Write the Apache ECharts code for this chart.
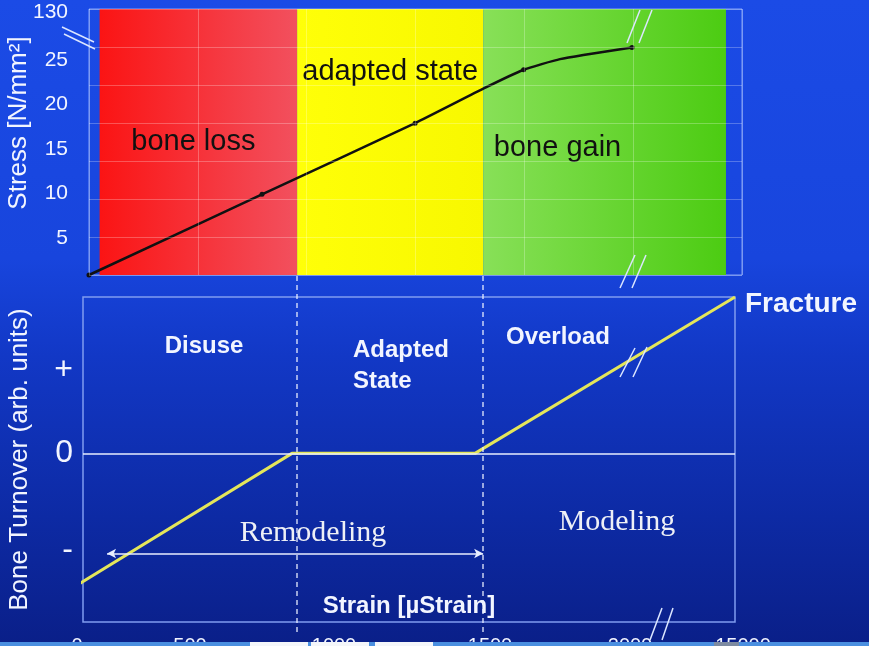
<!DOCTYPE html>
<html>
<head>
<meta charset="utf-8">
<script src="https://cdn.jsdelivr.net/npm/echarts@6/dist/echarts.min.js"></script>
<style>
  html, body { margin: 0; padding: 0; }
  #chart {
    width: 869px; height: 646px;
    background: linear-gradient(to bottom, #1b4be6 0%, #1845dd 40%, #1238c6 55%, #0d2aa4 80%, #0a1f88 100%);
  }
</style>
</head>
<body>
<div id="chart"></div>
<script>
// ---------------- data ----------------
const strainTicks = [0, 500, 1000, 1500, 2000, 15000];
const strainTickLabels = ['0', '500', '1000', '1500', '2000', '15000'];
const stressTicks = [5, 10, 15, 20, 25, 30.4];
const stressTickLabels = ['5', '10', '15', '20', '25', '130'];
const turnoverTicks = [-1.1, 0, 0.95];
const turnoverTickLabels = ['-', '0', '+'];

// stress–strain curve (top panel)
const stressStrain = [53, 750, 1260, 1480, 1620, 1750, 2230];
const stressValues = [0.84, 9.9, 17.9, 21.8, 23.9, 25.1, 26.4];
const stressMarked = [true, true, true, false, true, false, true];

// bone turnover vs strain (bottom panel)
const turnoverStrain = [0, 854, 1452, 14080];
const turnoverValues = [-1.5, 0, 0, 1.78];

// zones of the top panel
const zoneNames = ['bone loss', 'adapted state', 'bone gain'];
const zoneStart = [100, 872, 1478];
const zoneEnd = [872, 1478, 13040];

// regime boundaries and processes
const regimeBounds = [872, 1478];
const regimeNames = ['Disuse', 'Adapted\nState', 'Overload'];
const processNames = ['Remodeling', 'Modeling'];
const processStart = [133, 1478];
const processEnd = [1478, 14080];
const processLevel = -1.14;

// ---------------- layout ----------------
// the strain axis is hand drawn and broken: page x of each tick label
const tickX = [77, 190, 334, 490, 630, 743];
function sx(s) {
  let i = 0;
  while (i < strainTicks.length - 2 && s > strainTicks[i + 1]) i++;
  const s0 = strainTicks[i], s1 = strainTicks[i + 1];
  return tickX[i] + (s - s0) / (s1 - s0) * (tickX[i + 1] - tickX[i]);
}
function labelFor(values, labels) {
  return v => {
    const i = values.findIndex(t => Math.abs(t - v) < 1e-6);
    return i < 0 ? '' : labels[i];
  };
}
const W = 869, H = 646;
const TOP = { l: 89, r: 742, t: 9, b: 275 };
const LOW = { l: 83, r: 735, t: 297, b: 622 };
const SANS = '"Liberation Sans", Arial, sans-serif';
const SERIF = '"Liberation Serif", "Times New Roman", serif';

const zoneColors = [
  { type: 'linear', x: 0, y: 0, x2: 1, y2: 0, colorStops: [{ offset: 0, color: '#fb1414' }, { offset: 1, color: '#f2505e' }] },
  { type: 'linear', x: 0, y: 0, x2: 1, y2: 0, colorStops: [{ offset: 0, color: '#ffff08' }, { offset: 1, color: '#f8f800' }] },
  { type: 'linear', x: 0, y: 0, x2: 1, y2: 0, colorStops: [{ offset: 0, color: '#88e058' }, { offset: 1, color: '#4ccc12' }] }
];
const zoneLabelOffset = [[-5, 0], [0, -70], [-47, 6]];

const chart = echarts.init(document.getElementById('chart'), null, { width: W, height: H });

const hidden = { axisLine: { show: false }, axisTick: { show: false }, axisLabel: { show: false }, splitLine: { show: false } };
const gridLine = { show: true, lineStyle: { color: 'rgba(255,255,255,0.26)', width: 1 } };

const breakMarks = [
  [[62, 27, 94, 42], [64, 34, 95, 49]],
  [[640, 10, 627, 43], [652, 10, 639, 43]],
  [[635, 255, 620, 288], [646, 255, 632, 288]],
  [[635, 348, 620, 377], [647, 347, 633, 377]],
  [[662, 608, 650, 640], [673, 608, 662, 640]]
];
const graphic = [];
breakMarks.forEach(pair => pair.forEach(p => graphic.push({
  type: 'line', z: 50, shape: { x1: p[0], y1: p[1], x2: p[2], y2: p[3] },
  style: { stroke: '#dce6ff', lineWidth: 1.5 }
})));
// title of the stress axis
graphic.push({
  type: 'text', z: 50, x: 19, y: 123, rotation: Math.PI / 2,
  style: { text: 'Stress [N/mm²]', x: 0, y: 0, align: 'center', verticalAlign: 'middle', font: '26px ' + SANS, fill: '#f2f5ff' }
});
const regimeLabelPos = [[204, 347, 'center'], [353, 351, 'left'], [558, 338, 'center']];
regimeNames.forEach((n, i) => graphic.push({
  type: 'text', z: 50,
  style: {
    text: n, x: regimeLabelPos[i][0], y: regimeLabelPos[i][1] - 16, align: regimeLabelPos[i][2], verticalAlign: 'top',
    font: 'bold 24px ' + SANS, lineHeight: 31, fill: '#f2f5ff'
  }
}));
const processLabelPos = [[313, 533], [617, 522]];
processNames.forEach((n, i) => graphic.push({
  type: 'text', z: 50,
  style: { text: n, x: processLabelPos[i][0], y: processLabelPos[i][1], align: 'center', verticalAlign: 'middle', font: '30px ' + SERIF, fill: '#eef0f6' }
}));
// light strip at the picture's bottom edge
graphic.push({ type: 'rect', z: 100, shape: { x: 0, y: 642, width: W, height: 4 }, style: { fill: '#4a8fe0' } });
[[250, 58], [311, 58], [375, 58]].forEach(r => graphic.push({ type: 'rect', z: 101, shape: { x: r[0], y: 642, width: r[1], height: 4 }, style: { fill: '#f4f6fa' } }));
graphic.push({ type: 'rect', z: 101, shape: { x: 714, y: 642, width: 25, height: 4 }, style: { fill: '#7d8aa0' } });

const option = {
  animation: false,
  backgroundColor: 'transparent',
  grid: [
    { left: TOP.l, right: W - TOP.r, top: TOP.t, bottom: H - TOP.b, show: true, borderColor: 'rgba(150,180,255,0.85)', borderWidth: 1, outerBoundsMode: 'none', containLabel: false },
    { left: LOW.l, right: W - LOW.r, top: LOW.t, bottom: H - LOW.b, show: true, borderColor: '#809cf0', borderWidth: 1.5, outerBoundsMode: 'none', containLabel: false },
    { left: LOW.l, right: W - LOW.r, top: TOP.b + 1, bottom: H - 632, show: false, outerBoundsMode: 'none', containLabel: false },
    { left: 40, right: W - 800, top: 600, bottom: H - LOW.b, show: false, outerBoundsMode: 'none', containLabel: false }
  ],
  xAxis: [
    { type: 'value', gridIndex: 0, min: TOP.l, max: TOP.r, show: false },
    Object.assign({}, hidden, { type: 'value', gridIndex: 0, min: 0, max: 6, interval: 1, splitLine: gridLine, z: 5 }),
    Object.assign({}, hidden, {
      type: 'value', gridIndex: 1, min: LOW.l, max: LOW.r,
      name: 'Strain [µStrain]', nameLocation: 'middle', nameGap: -28,
      nameTextStyle: { color: '#f2f5ff', fontSize: 24, fontWeight: 'bold', fontFamily: SANS }
    }),
    { type: 'value', gridIndex: 2, min: LOW.l, max: LOW.r, show: false },
    Object.assign({}, hidden, {
      type: 'value', gridIndex: 3, min: 40, max: 800,
      axisLabel: {
        show: true, customValues: strainTicks.map(sx), formatter: labelFor(strainTicks.map(sx), strainTickLabels),
        color: '#f2f5ff', fontSize: 20, fontFamily: SANS, margin: 14
      }
    })
  ],
  yAxis: [
    Object.assign({}, hidden, {
      type: 'value', gridIndex: 0, min: 0.84, max: 30.73,
      axisLabel: {
        show: true, customValues: stressTicks, formatter: labelFor(stressTicks, stressTickLabels),
        color: '#f2f5ff', fontSize: 21, fontFamily: SANS, margin: 21
      }
    }),
    Object.assign({}, hidden, { type: 'value', gridIndex: 0, min: 0, max: 7, interval: 1, splitLine: gridLine, z: 5 }),
    Object.assign({}, hidden, {
      type: 'value', gridIndex: 1, min: -1.92, max: 1.78,
      name: 'Bone Turnover (arb. units)', nameLocation: 'middle', nameGap: 50,
      nameTextStyle: { color: '#f2f5ff', fontSize: 26, fontFamily: SANS },
      axisLabel: {
        show: true, customValues: turnoverTicks, formatter: labelFor(turnoverTicks, turnoverTickLabels),
        color: '#f2f5ff', fontSize: 32, fontFamily: SANS, margin: 10
      }
    }),
    { type: 'value', gridIndex: 2, min: 0, max: 1, show: false },
    { type: 'value', gridIndex: 3, min: 0, max: 1, show: false }
  ],
  series: [
    {
      name: 'Stress', type: 'line', xAxisIndex: 0, yAxisIndex: 0, z: 3,
      data: stressStrain.map((s, i) => ({ value: [sx(s), stressValues[i]], symbolSize: stressMarked[i] ? 5 : 0 })),
      symbol: 'circle', smooth: 0.15,
      itemStyle: { color: '#111' }, lineStyle: { color: '#111', width: 2.5 },
      markArea: {
        silent: true,
        data: zoneNames.map((n, i) => [
          {
            name: n, xAxis: sx(zoneStart[i]), itemStyle: { color: zoneColors[i] },
            label: { offset: zoneLabelOffset[i] }
          },
          { xAxis: sx(zoneEnd[i]) }
        ]),
        label: { show: true, position: 'inside', color: '#111', fontSize: 29, fontFamily: SANS }
      }
    },
    {
      name: 'Bone Turnover', type: 'line', xAxisIndex: 2, yAxisIndex: 2, z: 3,
      data: turnoverStrain.map((s, i) => [sx(s), turnoverValues[i]]),
      symbol: 'none', lineStyle: { color: '#e4e65a', width: 3 },
      endLabel: {
        show: true, formatter: 'Fracture', distance: 10, offset: [0, 7],
        color: '#f2f5ff', fontSize: 28, fontWeight: 'bold', fontFamily: SANS
      },
      markLine: {
        silent: true, symbol: ['none', 'none'], label: { show: false },
        lineStyle: { color: '#e8eeff', width: 1.5, type: 'solid' },
        data: [{ yAxis: 0, symbol: 'none' }].concat(processNames.map((n, i) => [
          { name: n, coord: [sx(processStart[i]), processLevel], symbol: 'arrow', symbolSize: [7, 9] },
          { coord: [sx(processEnd[i]), processLevel], symbol: 'arrow', symbolSize: [7, 9] }
        ]))
      }
    },
    {
      name: 'Regime bounds', type: 'line', xAxisIndex: 3, yAxisIndex: 3,
      data: regimeBounds.map(b => [sx(b), 0]), symbol: 'none', lineStyle: { opacity: 0 },
      markLine: {
        silent: true, symbol: ['none', 'none'], label: { show: false },
        lineStyle: { color: 'rgba(235,240,255,0.85)', width: 1.5, type: [5, 4] },
        data: regimeBounds.map(b => ({ xAxis: sx(b) }))
      }
    }
  ],
  graphic: graphic
};
chart.setOption(option);
</script>
</body>
</html>
